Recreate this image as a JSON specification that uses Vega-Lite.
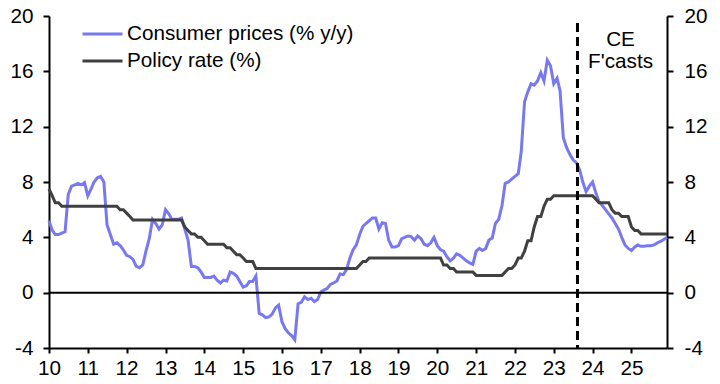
{
  "$schema": "https://vega.github.io/schema/vega-lite/v6.json",
  "width": 618,
  "height": 332,
  "autosize": {"type": "none"},
  "padding": {"left": 49, "top": 16, "right": 53, "bottom": 36},
  "background": "white",
  "config": {
    "view": {"stroke": null},
    "font": "Liberation Sans",
    "axis": {
      "grid": false,
      "title": null,
      "labelFont": "Liberation Sans",
      "labelFontSize": 20.7,
      "labelColor": "black",
      "domainColor": "black",
      "domainWidth": 2,
      "tickColor": "black",
      "tickWidth": 2,
      "labelFlush": false,
      "labelOverlap": false
    }
  },
  "data": {
    "values": [
      {"date": "2010-01-01", "Consumer prices (% y/y)": 5.2, "Policy rate (%)": 7.5},
      {"date": "2010-02-01", "Consumer prices (% y/y)": 4.5, "Policy rate (%)": 7.0},
      {"date": "2010-03-01", "Consumer prices (% y/y)": 4.2, "Policy rate (%)": 6.5},
      {"date": "2010-04-01", "Consumer prices (% y/y)": 4.2, "Policy rate (%)": 6.5},
      {"date": "2010-05-01", "Consumer prices (% y/y)": 4.3, "Policy rate (%)": 6.25},
      {"date": "2010-06-01", "Consumer prices (% y/y)": 4.4, "Policy rate (%)": 6.25},
      {"date": "2010-07-01", "Consumer prices (% y/y)": 7.1, "Policy rate (%)": 6.25},
      {"date": "2010-08-01", "Consumer prices (% y/y)": 7.7, "Policy rate (%)": 6.25},
      {"date": "2010-09-01", "Consumer prices (% y/y)": 7.8, "Policy rate (%)": 6.25},
      {"date": "2010-10-01", "Consumer prices (% y/y)": 7.9, "Policy rate (%)": 6.25},
      {"date": "2010-11-01", "Consumer prices (% y/y)": 7.8, "Policy rate (%)": 6.25},
      {"date": "2010-12-01", "Consumer prices (% y/y)": 7.95, "Policy rate (%)": 6.25},
      {"date": "2011-01-01", "Consumer prices (% y/y)": 7.0, "Policy rate (%)": 6.25},
      {"date": "2011-02-01", "Consumer prices (% y/y)": 7.5, "Policy rate (%)": 6.25},
      {"date": "2011-03-01", "Consumer prices (% y/y)": 8.0, "Policy rate (%)": 6.25},
      {"date": "2011-04-01", "Consumer prices (% y/y)": 8.3, "Policy rate (%)": 6.25},
      {"date": "2011-05-01", "Consumer prices (% y/y)": 8.4, "Policy rate (%)": 6.25},
      {"date": "2011-06-01", "Consumer prices (% y/y)": 8.0, "Policy rate (%)": 6.25},
      {"date": "2011-07-01", "Consumer prices (% y/y)": 4.9, "Policy rate (%)": 6.25},
      {"date": "2011-08-01", "Consumer prices (% y/y)": 4.2, "Policy rate (%)": 6.25},
      {"date": "2011-09-01", "Consumer prices (% y/y)": 3.5, "Policy rate (%)": 6.25},
      {"date": "2011-10-01", "Consumer prices (% y/y)": 3.6, "Policy rate (%)": 6.25},
      {"date": "2011-11-01", "Consumer prices (% y/y)": 3.4, "Policy rate (%)": 6.0},
      {"date": "2011-12-01", "Consumer prices (% y/y)": 3.1, "Policy rate (%)": 6.0},
      {"date": "2012-01-01", "Consumer prices (% y/y)": 2.7, "Policy rate (%)": 5.75},
      {"date": "2012-02-01", "Consumer prices (% y/y)": 2.6, "Policy rate (%)": 5.5},
      {"date": "2012-03-01", "Consumer prices (% y/y)": 2.4, "Policy rate (%)": 5.25},
      {"date": "2012-04-01", "Consumer prices (% y/y)": 1.9, "Policy rate (%)": 5.25},
      {"date": "2012-05-01", "Consumer prices (% y/y)": 1.8, "Policy rate (%)": 5.25},
      {"date": "2012-06-01", "Consumer prices (% y/y)": 2.0, "Policy rate (%)": 5.25},
      {"date": "2012-07-01", "Consumer prices (% y/y)": 3.0, "Policy rate (%)": 5.25},
      {"date": "2012-08-01", "Consumer prices (% y/y)": 3.9, "Policy rate (%)": 5.25},
      {"date": "2012-09-01", "Consumer prices (% y/y)": 5.3, "Policy rate (%)": 5.25},
      {"date": "2012-10-01", "Consumer prices (% y/y)": 5.0, "Policy rate (%)": 5.25},
      {"date": "2012-11-01", "Consumer prices (% y/y)": 4.6, "Policy rate (%)": 5.25},
      {"date": "2012-12-01", "Consumer prices (% y/y)": 4.9, "Policy rate (%)": 5.25},
      {"date": "2013-01-01", "Consumer prices (% y/y)": 6.0, "Policy rate (%)": 5.25},
      {"date": "2013-02-01", "Consumer prices (% y/y)": 5.7, "Policy rate (%)": 5.25},
      {"date": "2013-03-01", "Consumer prices (% y/y)": 5.3, "Policy rate (%)": 5.25},
      {"date": "2013-04-01", "Consumer prices (% y/y)": 5.3, "Policy rate (%)": 5.25},
      {"date": "2013-05-01", "Consumer prices (% y/y)": 5.3, "Policy rate (%)": 5.25},
      {"date": "2013-06-01", "Consumer prices (% y/y)": 5.4, "Policy rate (%)": 5.25},
      {"date": "2013-07-01", "Consumer prices (% y/y)": 4.6, "Policy rate (%)": 4.75},
      {"date": "2013-08-01", "Consumer prices (% y/y)": 3.8, "Policy rate (%)": 4.5},
      {"date": "2013-09-01", "Consumer prices (% y/y)": 1.9, "Policy rate (%)": 4.25},
      {"date": "2013-10-01", "Consumer prices (% y/y)": 1.9, "Policy rate (%)": 4.25},
      {"date": "2013-11-01", "Consumer prices (% y/y)": 1.8, "Policy rate (%)": 4.0},
      {"date": "2013-12-01", "Consumer prices (% y/y)": 1.5, "Policy rate (%)": 4.0},
      {"date": "2014-01-01", "Consumer prices (% y/y)": 1.1, "Policy rate (%)": 3.75},
      {"date": "2014-02-01", "Consumer prices (% y/y)": 1.1, "Policy rate (%)": 3.5},
      {"date": "2014-03-01", "Consumer prices (% y/y)": 1.1, "Policy rate (%)": 3.5},
      {"date": "2014-04-01", "Consumer prices (% y/y)": 1.2, "Policy rate (%)": 3.5},
      {"date": "2014-05-01", "Consumer prices (% y/y)": 0.9, "Policy rate (%)": 3.5},
      {"date": "2014-06-01", "Consumer prices (% y/y)": 0.7, "Policy rate (%)": 3.5},
      {"date": "2014-07-01", "Consumer prices (% y/y)": 0.9, "Policy rate (%)": 3.5},
      {"date": "2014-08-01", "Consumer prices (% y/y)": 0.85, "Policy rate (%)": 3.25},
      {"date": "2014-09-01", "Consumer prices (% y/y)": 1.5, "Policy rate (%)": 3.25},
      {"date": "2014-10-01", "Consumer prices (% y/y)": 1.4, "Policy rate (%)": 3.0},
      {"date": "2014-11-01", "Consumer prices (% y/y)": 1.2, "Policy rate (%)": 2.75},
      {"date": "2014-12-01", "Consumer prices (% y/y)": 0.8, "Policy rate (%)": 2.75},
      {"date": "2015-01-01", "Consumer prices (% y/y)": 0.4, "Policy rate (%)": 2.5},
      {"date": "2015-02-01", "Consumer prices (% y/y)": 0.5, "Policy rate (%)": 2.25},
      {"date": "2015-03-01", "Consumer prices (% y/y)": 0.8, "Policy rate (%)": 2.25},
      {"date": "2015-04-01", "Consumer prices (% y/y)": 0.8, "Policy rate (%)": 2.25},
      {"date": "2015-05-01", "Consumer prices (% y/y)": 1.2, "Policy rate (%)": 1.75},
      {"date": "2015-06-01", "Consumer prices (% y/y)": -1.5, "Policy rate (%)": 1.75},
      {"date": "2015-07-01", "Consumer prices (% y/y)": -1.6, "Policy rate (%)": 1.75},
      {"date": "2015-08-01", "Consumer prices (% y/y)": -1.8, "Policy rate (%)": 1.75},
      {"date": "2015-09-01", "Consumer prices (% y/y)": -1.75, "Policy rate (%)": 1.75},
      {"date": "2015-10-01", "Consumer prices (% y/y)": -1.55, "Policy rate (%)": 1.75},
      {"date": "2015-11-01", "Consumer prices (% y/y)": -1.1, "Policy rate (%)": 1.75},
      {"date": "2015-12-01", "Consumer prices (% y/y)": -0.9, "Policy rate (%)": 1.75},
      {"date": "2016-01-01", "Consumer prices (% y/y)": -2.1, "Policy rate (%)": 1.75},
      {"date": "2016-02-01", "Consumer prices (% y/y)": -2.6, "Policy rate (%)": 1.75},
      {"date": "2016-03-01", "Consumer prices (% y/y)": -2.9, "Policy rate (%)": 1.75},
      {"date": "2016-04-01", "Consumer prices (% y/y)": -3.1, "Policy rate (%)": 1.75},
      {"date": "2016-05-01", "Consumer prices (% y/y)": -3.4, "Policy rate (%)": 1.75},
      {"date": "2016-06-01", "Consumer prices (% y/y)": -0.8, "Policy rate (%)": 1.75},
      {"date": "2016-07-01", "Consumer prices (% y/y)": -0.7, "Policy rate (%)": 1.75},
      {"date": "2016-08-01", "Consumer prices (% y/y)": -0.3, "Policy rate (%)": 1.75},
      {"date": "2016-09-01", "Consumer prices (% y/y)": -0.5, "Policy rate (%)": 1.75},
      {"date": "2016-10-01", "Consumer prices (% y/y)": -0.4, "Policy rate (%)": 1.75},
      {"date": "2016-11-01", "Consumer prices (% y/y)": -0.65, "Policy rate (%)": 1.75},
      {"date": "2016-12-01", "Consumer prices (% y/y)": -0.5, "Policy rate (%)": 1.75},
      {"date": "2017-01-01", "Consumer prices (% y/y)": 0.05, "Policy rate (%)": 1.75},
      {"date": "2017-02-01", "Consumer prices (% y/y)": 0.2, "Policy rate (%)": 1.75},
      {"date": "2017-03-01", "Consumer prices (% y/y)": 0.3, "Policy rate (%)": 1.75},
      {"date": "2017-04-01", "Consumer prices (% y/y)": 0.6, "Policy rate (%)": 1.75},
      {"date": "2017-05-01", "Consumer prices (% y/y)": 0.7, "Policy rate (%)": 1.75},
      {"date": "2017-06-01", "Consumer prices (% y/y)": 0.85, "Policy rate (%)": 1.75},
      {"date": "2017-07-01", "Consumer prices (% y/y)": 1.35, "Policy rate (%)": 1.75},
      {"date": "2017-08-01", "Consumer prices (% y/y)": 1.3, "Policy rate (%)": 1.75},
      {"date": "2017-09-01", "Consumer prices (% y/y)": 1.7, "Policy rate (%)": 1.75},
      {"date": "2017-10-01", "Consumer prices (% y/y)": 2.5, "Policy rate (%)": 1.75},
      {"date": "2017-11-01", "Consumer prices (% y/y)": 3.1, "Policy rate (%)": 1.75},
      {"date": "2017-12-01", "Consumer prices (% y/y)": 3.45, "Policy rate (%)": 1.75},
      {"date": "2018-01-01", "Consumer prices (% y/y)": 4.2, "Policy rate (%)": 2.0},
      {"date": "2018-02-01", "Consumer prices (% y/y)": 4.8, "Policy rate (%)": 2.25},
      {"date": "2018-03-01", "Consumer prices (% y/y)": 5.0, "Policy rate (%)": 2.25},
      {"date": "2018-04-01", "Consumer prices (% y/y)": 5.2, "Policy rate (%)": 2.5},
      {"date": "2018-05-01", "Consumer prices (% y/y)": 5.4, "Policy rate (%)": 2.5},
      {"date": "2018-06-01", "Consumer prices (% y/y)": 5.4, "Policy rate (%)": 2.5},
      {"date": "2018-07-01", "Consumer prices (% y/y)": 4.6, "Policy rate (%)": 2.5},
      {"date": "2018-08-01", "Consumer prices (% y/y)": 5.05, "Policy rate (%)": 2.5},
      {"date": "2018-09-01", "Consumer prices (% y/y)": 5.0, "Policy rate (%)": 2.5},
      {"date": "2018-10-01", "Consumer prices (% y/y)": 3.8, "Policy rate (%)": 2.5},
      {"date": "2018-11-01", "Consumer prices (% y/y)": 3.3, "Policy rate (%)": 2.5},
      {"date": "2018-12-01", "Consumer prices (% y/y)": 3.3, "Policy rate (%)": 2.5},
      {"date": "2019-01-01", "Consumer prices (% y/y)": 3.4, "Policy rate (%)": 2.5},
      {"date": "2019-02-01", "Consumer prices (% y/y)": 3.9, "Policy rate (%)": 2.5},
      {"date": "2019-03-01", "Consumer prices (% y/y)": 4.0, "Policy rate (%)": 2.5},
      {"date": "2019-04-01", "Consumer prices (% y/y)": 4.1, "Policy rate (%)": 2.5},
      {"date": "2019-05-01", "Consumer prices (% y/y)": 4.05, "Policy rate (%)": 2.5},
      {"date": "2019-06-01", "Consumer prices (% y/y)": 3.8, "Policy rate (%)": 2.5},
      {"date": "2019-07-01", "Consumer prices (% y/y)": 4.1, "Policy rate (%)": 2.5},
      {"date": "2019-08-01", "Consumer prices (% y/y)": 3.9, "Policy rate (%)": 2.5},
      {"date": "2019-09-01", "Consumer prices (% y/y)": 3.5, "Policy rate (%)": 2.5},
      {"date": "2019-10-01", "Consumer prices (% y/y)": 3.4, "Policy rate (%)": 2.5},
      {"date": "2019-11-01", "Consumer prices (% y/y)": 3.6, "Policy rate (%)": 2.5},
      {"date": "2019-12-01", "Consumer prices (% y/y)": 4.0, "Policy rate (%)": 2.5},
      {"date": "2020-01-01", "Consumer prices (% y/y)": 3.4, "Policy rate (%)": 2.5},
      {"date": "2020-02-01", "Consumer prices (% y/y)": 3.1, "Policy rate (%)": 2.5},
      {"date": "2020-03-01", "Consumer prices (% y/y)": 3.0, "Policy rate (%)": 2.0},
      {"date": "2020-04-01", "Consumer prices (% y/y)": 2.6, "Policy rate (%)": 2.0},
      {"date": "2020-05-01", "Consumer prices (% y/y)": 2.3, "Policy rate (%)": 1.75},
      {"date": "2020-06-01", "Consumer prices (% y/y)": 2.5, "Policy rate (%)": 1.75},
      {"date": "2020-07-01", "Consumer prices (% y/y)": 2.8, "Policy rate (%)": 1.5},
      {"date": "2020-08-01", "Consumer prices (% y/y)": 2.7, "Policy rate (%)": 1.5},
      {"date": "2020-09-01", "Consumer prices (% y/y)": 2.5, "Policy rate (%)": 1.5},
      {"date": "2020-10-01", "Consumer prices (% y/y)": 2.3, "Policy rate (%)": 1.5},
      {"date": "2020-11-01", "Consumer prices (% y/y)": 2.15, "Policy rate (%)": 1.5},
      {"date": "2020-12-01", "Consumer prices (% y/y)": 2.05, "Policy rate (%)": 1.5},
      {"date": "2021-01-01", "Consumer prices (% y/y)": 3.0, "Policy rate (%)": 1.25},
      {"date": "2021-02-01", "Consumer prices (% y/y)": 3.2, "Policy rate (%)": 1.25},
      {"date": "2021-03-01", "Consumer prices (% y/y)": 3.05, "Policy rate (%)": 1.25},
      {"date": "2021-04-01", "Consumer prices (% y/y)": 3.2, "Policy rate (%)": 1.25},
      {"date": "2021-05-01", "Consumer prices (% y/y)": 3.8, "Policy rate (%)": 1.25},
      {"date": "2021-06-01", "Consumer prices (% y/y)": 3.95, "Policy rate (%)": 1.25},
      {"date": "2021-07-01", "Consumer prices (% y/y)": 5.0, "Policy rate (%)": 1.25},
      {"date": "2021-08-01", "Consumer prices (% y/y)": 5.3, "Policy rate (%)": 1.25},
      {"date": "2021-09-01", "Consumer prices (% y/y)": 6.3, "Policy rate (%)": 1.25},
      {"date": "2021-10-01", "Consumer prices (% y/y)": 7.9, "Policy rate (%)": 1.5},
      {"date": "2021-11-01", "Consumer prices (% y/y)": 8.0, "Policy rate (%)": 1.75},
      {"date": "2021-12-01", "Consumer prices (% y/y)": 8.2, "Policy rate (%)": 1.75},
      {"date": "2022-01-01", "Consumer prices (% y/y)": 8.4, "Policy rate (%)": 2.0},
      {"date": "2022-02-01", "Consumer prices (% y/y)": 8.6, "Policy rate (%)": 2.5},
      {"date": "2022-03-01", "Consumer prices (% y/y)": 10.2, "Policy rate (%)": 2.5},
      {"date": "2022-04-01", "Consumer prices (% y/y)": 13.8, "Policy rate (%)": 3.0},
      {"date": "2022-05-01", "Consumer prices (% y/y)": 14.5, "Policy rate (%)": 3.75},
      {"date": "2022-06-01", "Consumer prices (% y/y)": 15.1, "Policy rate (%)": 3.75},
      {"date": "2022-07-01", "Consumer prices (% y/y)": 15.0, "Policy rate (%)": 4.75},
      {"date": "2022-08-01", "Consumer prices (% y/y)": 15.3, "Policy rate (%)": 5.5},
      {"date": "2022-09-01", "Consumer prices (% y/y)": 15.9, "Policy rate (%)": 5.5},
      {"date": "2022-10-01", "Consumer prices (% y/y)": 15.3, "Policy rate (%)": 6.25},
      {"date": "2022-11-01", "Consumer prices (% y/y)": 16.8, "Policy rate (%)": 6.75},
      {"date": "2022-12-01", "Consumer prices (% y/y)": 16.4, "Policy rate (%)": 6.75},
      {"date": "2023-01-01", "Consumer prices (% y/y)": 15.1, "Policy rate (%)": 7.0},
      {"date": "2023-02-01", "Consumer prices (% y/y)": 15.5, "Policy rate (%)": 7.0},
      {"date": "2023-03-01", "Consumer prices (% y/y)": 14.6, "Policy rate (%)": 7.0},
      {"date": "2023-04-01", "Consumer prices (% y/y)": 11.2, "Policy rate (%)": 7.0},
      {"date": "2023-05-01", "Consumer prices (% y/y)": 10.5, "Policy rate (%)": 7.0},
      {"date": "2023-06-01", "Consumer prices (% y/y)": 10.0, "Policy rate (%)": 7.0},
      {"date": "2023-07-01", "Consumer prices (% y/y)": 9.6, "Policy rate (%)": 7.0},
      {"date": "2023-08-01", "Consumer prices (% y/y)": 9.4, "Policy rate (%)": 7.0},
      {"date": "2023-09-01", "Consumer prices (% y/y)": 8.9, "Policy rate (%)": 7.0},
      {"date": "2023-10-01", "Consumer prices (% y/y)": 8.0, "Policy rate (%)": 7.0},
      {"date": "2023-11-01", "Consumer prices (% y/y)": 7.3, "Policy rate (%)": 7.0},
      {"date": "2023-12-01", "Consumer prices (% y/y)": 7.7, "Policy rate (%)": 7.0},
      {"date": "2024-01-01", "Consumer prices (% y/y)": 8.0, "Policy rate (%)": 7.0},
      {"date": "2024-02-01", "Consumer prices (% y/y)": 7.2, "Policy rate (%)": 6.75},
      {"date": "2024-03-01", "Consumer prices (% y/y)": 6.6, "Policy rate (%)": 6.5},
      {"date": "2024-04-01", "Consumer prices (% y/y)": 6.3, "Policy rate (%)": 6.5},
      {"date": "2024-05-01", "Consumer prices (% y/y)": 6.0, "Policy rate (%)": 6.5},
      {"date": "2024-06-01", "Consumer prices (% y/y)": 5.7, "Policy rate (%)": 6.5},
      {"date": "2024-07-01", "Consumer prices (% y/y)": 5.4, "Policy rate (%)": 6.0},
      {"date": "2024-08-01", "Consumer prices (% y/y)": 5.0, "Policy rate (%)": 5.75},
      {"date": "2024-09-01", "Consumer prices (% y/y)": 4.6, "Policy rate (%)": 5.75},
      {"date": "2024-10-01", "Consumer prices (% y/y)": 4.0, "Policy rate (%)": 5.5},
      {"date": "2024-11-01", "Consumer prices (% y/y)": 3.45, "Policy rate (%)": 5.5},
      {"date": "2024-12-01", "Consumer prices (% y/y)": 3.2, "Policy rate (%)": 5.5},
      {"date": "2025-01-01", "Consumer prices (% y/y)": 3.05, "Policy rate (%)": 4.75},
      {"date": "2025-02-01", "Consumer prices (% y/y)": 3.3, "Policy rate (%)": 4.5},
      {"date": "2025-03-01", "Consumer prices (% y/y)": 3.45, "Policy rate (%)": 4.5},
      {"date": "2025-04-01", "Consumer prices (% y/y)": 3.35, "Policy rate (%)": 4.25},
      {"date": "2025-05-01", "Consumer prices (% y/y)": 3.35, "Policy rate (%)": 4.25},
      {"date": "2025-06-01", "Consumer prices (% y/y)": 3.4, "Policy rate (%)": 4.25},
      {"date": "2025-07-01", "Consumer prices (% y/y)": 3.4, "Policy rate (%)": 4.25},
      {"date": "2025-08-01", "Consumer prices (% y/y)": 3.45, "Policy rate (%)": 4.25},
      {"date": "2025-09-01", "Consumer prices (% y/y)": 3.6, "Policy rate (%)": 4.25},
      {"date": "2025-10-01", "Consumer prices (% y/y)": 3.7, "Policy rate (%)": 4.25},
      {"date": "2025-11-01", "Consumer prices (% y/y)": 3.85, "Policy rate (%)": 4.25},
      {"date": "2025-12-01", "Consumer prices (% y/y)": 4.0, "Policy rate (%)": 4.25}
    ]
  },
  "layer": [
    {
      "transform": [{"fold": ["Consumer prices (% y/y)", "Policy rate (%)"], "as": ["series", "value"]}],
      "mark": {"type": "line", "strokeWidth": 3},
      "encoding": {
        "x": {
          "field": "date",
          "type": "temporal",
          "scale": {"type": "utc", "domain": [{"year": 2010, "month": 1, "date": 1, "utc": true}, {"year": 2025, "month": 12, "date": 1, "utc": true}]},
          "axis": {
            "orient": "bottom",
            "format": "%y",
            "tickSize": 5,
            "labelPadding": 5,
            "values": [
              {"year": 2010, "month": 1, "date": 1, "utc": true},
              {"year": 2011, "month": 1, "date": 1, "utc": true},
              {"year": 2012, "month": 1, "date": 1, "utc": true},
              {"year": 2013, "month": 1, "date": 1, "utc": true},
              {"year": 2014, "month": 1, "date": 1, "utc": true},
              {"year": 2015, "month": 1, "date": 1, "utc": true},
              {"year": 2016, "month": 1, "date": 1, "utc": true},
              {"year": 2017, "month": 1, "date": 1, "utc": true},
              {"year": 2018, "month": 1, "date": 1, "utc": true},
              {"year": 2019, "month": 1, "date": 1, "utc": true},
              {"year": 2020, "month": 1, "date": 1, "utc": true},
              {"year": 2021, "month": 1, "date": 1, "utc": true},
              {"year": 2022, "month": 1, "date": 1, "utc": true},
              {"year": 2023, "month": 1, "date": 1, "utc": true},
              {"year": 2024, "month": 1, "date": 1, "utc": true},
              {"year": 2025, "month": 1, "date": 1, "utc": true}
            ]
          }
        },
        "y": {
          "field": "value",
          "type": "quantitative",
          "scale": {"domain": [-4, 20], "nice": false, "zero": false},
          "axis": {"orient": "left", "values": [-4, 0, 4, 8, 12, 16, 20], "labelExpr": "'' + datum.value", "tickSize": 6, "labelPadding": 10}
        },
        "color": {
          "field": "series",
          "type": "nominal",
          "scale": {"domain": ["Consumer prices (% y/y)", "Policy rate (%)"], "range": ["#7878f0", "#404040"]},
          "legend": {
            "title": null,
            "orient": "none",
            "legendX": 42,
            "legendY": 6.5,
            "padding": 0,
            "symbolType": "M-2,0H2",
            "symbolSize": 400,
            "symbolStrokeWidth": 3,
            "rowPadding": 5,
            "labelOffset": 13,
            "labelFont": "Liberation Sans",
            "labelFontSize": 20.7,
            "labelColor": "black",
            "labelLimit": 400
          }
        }
      }
    },
    {
      "data": {"values": [{"level": 0}]},
      "mark": {"type": "rule", "color": "black", "strokeWidth": 2},
      "encoding": {
        "y": {
          "field": "level",
          "type": "quantitative",
          "scale": {"domain": [-4, 20], "nice": false, "zero": false},
          "axis": {"orient": "right", "values": [-4, 0, 4, 8, 12, 16, 20], "labelExpr": "'' + datum.value", "tickSize": 6, "labelPadding": 11}
        }
      }
    },
    {
      "data": {"values": [{"date": "2023-08-12", "top": 19.5, "bottom": -4}]},
      "mark": {"type": "rule", "color": "black", "strokeWidth": 3, "strokeDash": [9, 5]},
      "encoding": {
        "x": {"field": "date", "type": "temporal"},
        "y": {"field": "top", "type": "quantitative", "scale": {"domain": [-4, 20], "nice": false, "zero": false}, "axis": null},
        "y2": {"field": "bottom"}
      }
    },
    {
      "data": {"values": [{"date": "2024-09-20", "value": 18.27, "label": "CE\nF'casts"}]},
      "mark": {"type": "text", "font": "Liberation Sans", "fontSize": 20.7, "lineBreak": "\n", "lineHeight": 22.5, "align": "center", "baseline": "middle", "color": "black"},
      "encoding": {
        "x": {"field": "date", "type": "temporal"},
        "y": {"field": "value", "type": "quantitative", "scale": {"domain": [-4, 20], "nice": false, "zero": false}, "axis": null},
        "text": {"field": "label"}
      }
    }
  ],
  "resolve": {"scale": {"y": "independent"}}
}
